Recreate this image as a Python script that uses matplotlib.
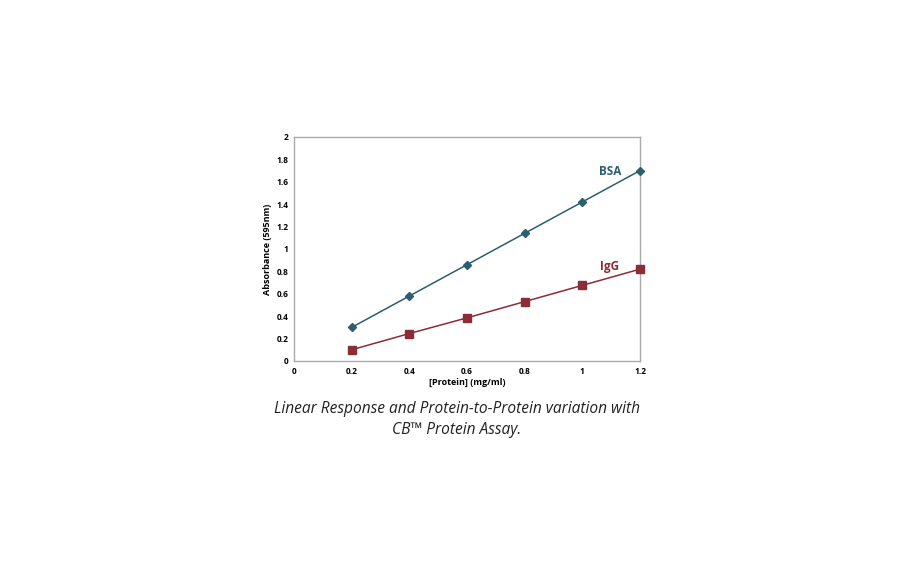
import numpy as np
import matplotlib.pyplot as plt

# Protein concentration (mg/ml) and absorbance at 595nm
protein = [0.2, 0.4, 0.6, 0.8, 1.0, 1.2]
bsa = [0.30, 0.58, 0.86, 1.14, 1.42, 1.70]
igg = [0.10, 0.245, 0.385, 0.53, 0.675, 0.82]

x_ticks = [0, 0.2, 0.4, 0.6, 0.8, 1, 1.2]
y_ticks = [0, 0.2, 0.4, 0.6, 0.8, 1, 1.2, 1.4, 1.6, 1.8, 2]

BSA_COLOR = '#2b5f6e'
IGG_COLOR = '#8a2d36'


def main():
    plt.rcParams['font.family'] = ['Open Sans', 'DejaVu Sans']

    fig = plt.figure(figsize=(9.12, 5.62), dpi=100)
    ax = fig.add_axes([0.3224, 0.3577, 0.3794, 0.3986])

    ax.plot(protein, bsa, color=BSA_COLOR, lw=1.1, marker='D', ms=4.2, clip_on=False, zorder=3)
    ax.plot(protein, igg, color=IGG_COLOR, lw=1.1, marker='s', ms=5.2, clip_on=False, zorder=3)

    ax.text(1.095, 1.69, 'BSA', color=BSA_COLOR, fontsize=8.5, fontweight='bold',
            ha='center', va='center')
    ax.text(1.095, 0.84, 'IgG', color=IGG_COLOR, fontsize=8.5, fontweight='bold',
            ha='center', va='center')

    ax.set_xlim(0, 1.2)
    ax.set_ylim(0, 2)
    ax.set_xticks(x_ticks)
    ax.set_xticklabels([f'{t:g}' for t in x_ticks])
    ax.set_yticks(y_ticks)
    ax.set_yticklabels([f'{t:g}' for t in y_ticks])
    ax.tick_params(length=0, labelsize=6, pad=4)
    for lab in ax.get_xticklabels() + ax.get_yticklabels():
        lab.set_fontweight('bold')

    for side in ['top', 'right', 'bottom', 'left']:
        ax.spines[side].set_color('#aaaaaa')
        ax.spines[side].set_linewidth(1.0)

    ax.set_xlabel('[Protein] (mg/ml)', fontsize=6.5, fontweight='bold', labelpad=2)
    ax.set_ylabel('Absorbance (595nm)', fontsize=6.5, fontweight='bold', labelpad=3)

    fig.text(0.501, 0.273, 'Linear Response and Protein-to-Protein variation with',
             fontsize=11.2, style='italic', ha='center', va='center', color='#222222')
    fig.text(0.501, 0.235, 'CB\u2122 Protein Assay.',
             fontsize=11.2, style='italic', ha='center', va='center', color='#222222')

    fig.savefig('out.png', dpi=100, facecolor='white')
    return


if __name__ == "__main__":
    main()
